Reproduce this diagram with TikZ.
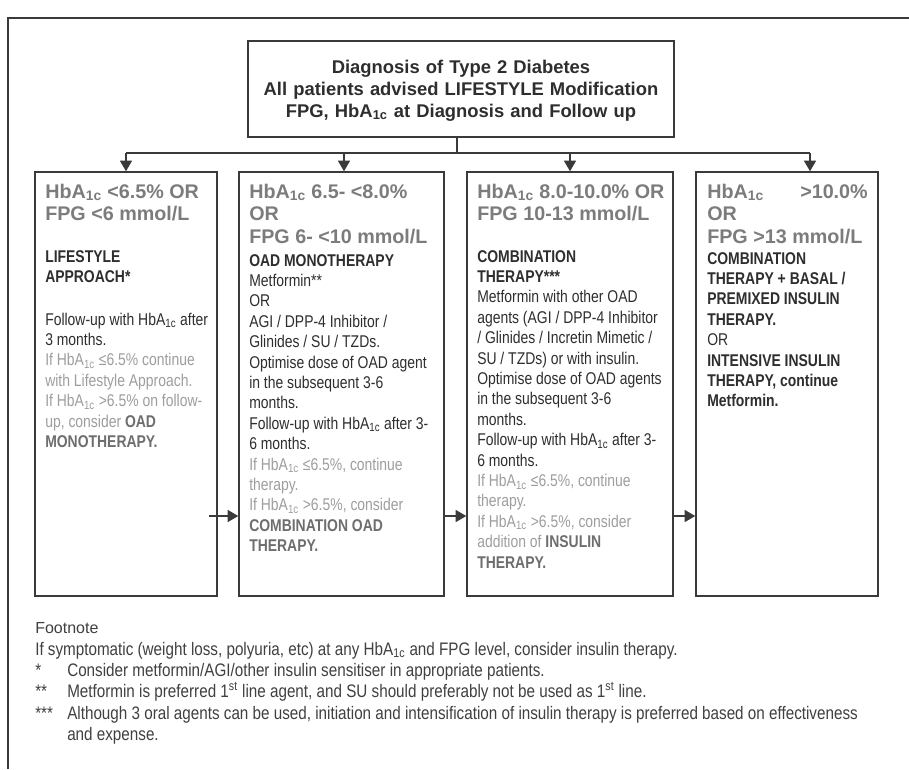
\documentclass[tikz,border=0pt]{standalone}
\usepackage{fontspec}
\setmainfont{Liberation Sans}
\newfontfamily\nar[FakeStretch=0.82]{Liberation Sans}
\newfontfamily\narf[FakeStretch=0.84]{Liberation Sans}
\usetikzlibrary{arrows.meta}
\definecolor{lc}{HTML}{3A3A3A}
\definecolor{hdrc}{HTML}{7C7C7C}
\definecolor{dk}{HTML}{2E2E2E}
\definecolor{lt}{HTML}{9E9E9E}
\definecolor{bg}{HTML}{6E6E6E}
\definecolor{fn}{HTML}{404040}
\newcommand\hba{HbA\textsubscript{1c}}
\newcommand\topfont{\fontsize{13.8pt}{16.5pt}\selectfont\bfseries}
\newcommand\hdrfont{\fontsize{14.8pt}{16.9pt}\selectfont\bfseries}
\newcommand\bodyfont{\nar\fontsize{12.75pt}{15.3pt}\selectfont}
\newcommand\fnfont{\narf\fontsize{13.6pt}{16.1pt}\selectfont}
\begin{document}
\begin{tikzpicture}[x=0.75pt,y=-0.75pt,
  box/.style={draw=lc,line width=1.1pt,inner sep=0pt,rectangle},
  hdr/.style={anchor=base west,inner sep=0pt,align=flush left,text=hdrc,font=\hdrfont,text width=160pt},
  body/.style={anchor=base west,inner sep=0pt,align=flush left,text=dk,font=\bodyfont,text width=160pt},
  arr/.style={draw=lc,line width=1.1pt,-{Triangle[width=9pt,length=8pt]}},
  ln/.style={draw=lc,line width=1.1pt}]
\useasboundingbox (0,0) rectangle (909,769);
\fill[white] (0,0) rectangle (909,769);
% outer frame (cropped)
\coordinate (fbl) at (8,769);
\coordinate (ftl) at (8,18);
\coordinate (ftr) at (909,18);
\draw[ln] (fbl) -- (ftl) -- (ftr);
% top box
\node[box,minimum width=319.5pt,minimum height=72pt] (diag) at (461,89) {};
\node[anchor=base,inner sep=0pt,align=center,text width=315pt,font=\topfont,text=dk] (diagt) at (461,73)
  {Diagnosis of Type 2 Diabetes\\All patients advised LIFESTYLE Modification\\FPG, \hba{} at Diagnosis and Follow up};
% column boxes
\node[box,minimum width=136.5pt,minimum height=318pt] (c1) at (126,384) {};
\node[box,minimum width=153.75pt,minimum height=318pt] (c2) at (341.5,384) {};
\node[box,minimum width=154.5pt,minimum height=318pt] (c3) at (570,384) {};
\node[box,minimum width=136.5pt,minimum height=318pt] (c4) at (787,384) {};
% bus
\coordinate (j) at (457,153);
\coordinate (a1) at (126,153);
\coordinate (a2) at (344,153);
\coordinate (a3) at (570,153);
\coordinate (a4) at (810,153);
\draw[ln] (j |- diag.south) -- (j);
\draw[ln] (a1) -- (a4);
\draw[arr] (a1) -- (a1 |- c1.north);
\draw[arr] (a2) -- (a2 |- c2.north);
\draw[arr] (a3) -- (a3 |- c3.north);
\draw[arr] (a4) -- (a4 |- c4.north);
% side arrows
\coordinate (s1) at (209,516);
\draw[arr] (s1) -- (s1 -| c2.west);
\draw[arr] (c2.east |- s1) -- (s1 -| c3.west);
\draw[arr] (c3.east |- s1) -- (s1 -| c4.west);
% column 1
\node[hdr] (h1) at (45,198) {\hba{} <6.5\% OR\\FPG <6 mmol/L};
\node[body,font=\bodyfont\bfseries] (t1) at (45,262) {LIFESTYLE\\APPROACH*};
\node[body] (b1) at (45,325) {Follow-up with \hba{} after\\
3 months.\\
{\color{lt}If \hba{} ≤6.5\% continue\\
with Lifestyle Approach.\\
If \hba{} >6.5\% on follow-\\
up, consider {\bfseries\color{bg}OAD\\
MONOTHERAPY.}}};
% column 2
\node[hdr] (h2) at (249,198) {\hba{} 6.5- <8.0\%\\OR\\FPG 6- <10 mmol/L};
\node[body] (b2) at (249,266) {{\bfseries OAD MONOTHERAPY}\\
Metformin**\\
OR\\
AGI / DPP-4 Inhibitor /\\
Glinides / SU / TZDs.\\
Optimise dose of OAD agent\\
in the subsequent 3-6\\
months.\\
Follow-up with \hba{} after 3-\\
6 months.\\
{\color{lt}If \hba{} ≤6.5\%, continue\\
therapy.\\
If \hba{} >6.5\%, consider\\
{\bfseries\color{bg}COMBINATION OAD\\
THERAPY.}}};
% column 3
\node[hdr] (h3) at (477,198) {\hba{} 8.0-10.0\% OR\\FPG 10-13 mmol/L};
\node[body] (b3) at (477,262) {{\bfseries COMBINATION\\THERAPY***}\\
Metformin with other OAD\\
agents (AGI / DPP-4 Inhibitor\\
/ Glinides / Incretin Mimetic /\\
SU / TZDs) or with insulin.\\
Optimise dose of OAD agents\\
in the subsequent 3-6\\
months.\\
Follow-up with \hba{} after 3-\\
6 months.\\
{\color{lt}If \hba{} ≤6.5\%, continue\\
therapy.\\
If \hba{} >6.5\%, consider\\
addition of {\bfseries\color{bg}INSULIN\\
THERAPY.}}};
% column 4
\node[hdr] (h4) at (707,198) {\makebox[69.75pt][l]{\hba}>10.0\%\\OR\\FPG >13 mmol/L};
\node[body] (b4) at (707,264) {{\bfseries COMBINATION\\
THERAPY + BASAL /\\
PREMIXED INSULIN\\
THERAPY.}\\
OR\\
{\bfseries INTENSIVE INSULIN\\
THERAPY, continue\\
Metformin.}};
% footnote
\node[anchor=base west,inner sep=0pt,font=\fontsize{12pt}{14pt}\selectfont,text=fn] (fnh) at (35,633) {Footnote};
\node[anchor=base west,inner sep=0pt,align=flush left,text width=660pt,font=\fnfont,text=fn] (fnb) at (35,655)
{If symptomatic (weight loss, polyuria, etc) at any \hba{} and FPG level, consider insulin therapy.\\
\makebox[24pt][l]{*}Consider metformin/AGI/other insulin sensitiser in appropriate patients.\\
\makebox[24pt][l]{**}Metformin is preferred 1\textsuperscript{st} line agent, and SU should preferably not be used as 1\textsuperscript{st} line.\\
\makebox[24pt][l]{***}Although 3 oral agents can be used, initiation and intensification of insulin therapy is preferred based on effectiveness\\
\hspace*{24pt}and expense.};
\end{tikzpicture}
\end{document}
